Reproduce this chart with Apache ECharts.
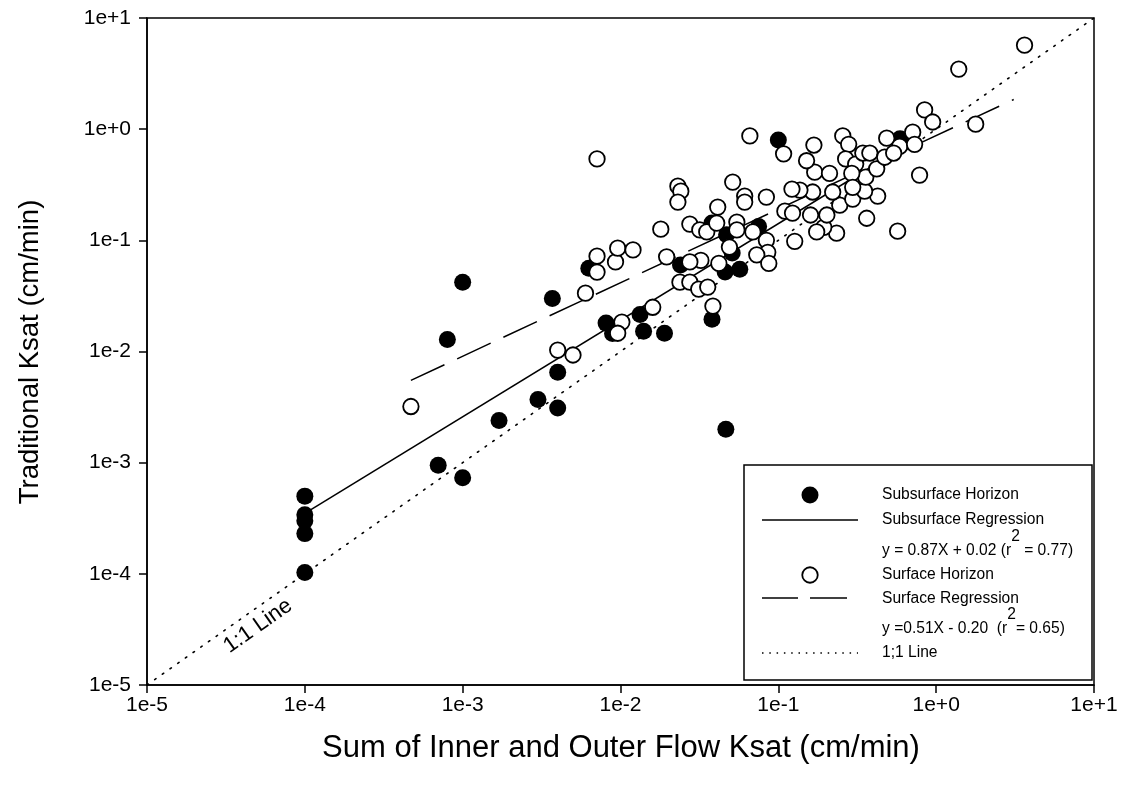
<!DOCTYPE html>
<html>
<head>
<meta charset="utf-8">
<script src="https://cdn.jsdelivr.net/npm/echarts@6/dist/echarts.min.js"></script>
<style>html,body{margin:0;padding:0;background:#fff}#chart{width:1130px;height:797px}</style>
</head>
<body>
<div id="chart"></div>
<script>
// ---- data ----
const subsurface = [
  [1e-4, 5.0e-4], [1e-4, 3.4e-4], [1e-4, 3.0e-4], [1e-4, 2.3e-4], [1e-4, 1.03e-4],
  [7.0e-4, 9.5e-4], [1.0e-3, 7.3e-4], [8.0e-4, 0.0128], [1.0e-3, 0.042],
  [1.7e-3, 2.4e-3], [3.0e-3, 3.7e-3], [4.0e-3, 6.5e-3], [4.0e-3, 3.1e-3], [3.7e-3, 0.030],
  [8.1e-3, 0.018], [8.9e-3, 0.0145], [0.0133, 0.0215], [0.014, 0.0152], [0.019, 0.0146],
  [0.0465, 2.0e-3], [0.038, 0.0195], [6.3e-3, 0.056], [0.024, 0.060], [0.046, 0.052],
  [0.057, 0.055], [0.047, 0.112], [0.051, 0.077], [0.038, 0.143], [0.075, 0.133],
  [0.10, 0.80], [0.59, 0.82]
];
const surface = [
  [4.7e-4, 3.2e-3], [4.0e-3, 0.0103], [5.0e-3, 9.3e-3], [0.0102, 0.0184], [9.6e-3, 0.0146],
  [0.016, 0.025], [7.1e-3, 0.54], [0.066, 0.87], [0.108, 0.60], [0.845, 1.49],
  [0.95, 1.16], [0.785, 0.386], [0.57, 0.121], [0.363, 0.158], [0.234, 0.116],
  [0.194, 0.131], [0.175, 0.119], [0.127, 0.098], [0.160, 0.169], [0.203, 0.169],
  [0.245, 0.207], [0.296, 0.235], [0.426, 0.25], [0.352, 0.277], [0.221, 0.272],
  [0.165, 0.272], [0.137, 0.283], [0.122, 0.289], [0.110, 0.183], [0.123, 0.176],
  [0.170, 0.41], [0.211, 0.40], [0.151, 0.52], [0.168, 0.72], [0.256, 0.87],
  [0.279, 0.73], [0.267, 0.54], [0.309, 0.485], [0.343, 0.61], [0.38, 0.61],
  [0.358, 0.37], [0.42, 0.44], [0.472, 0.56], [0.486, 0.83], [0.587, 0.70],
  [0.71, 0.94], [0.73, 0.73], [0.538, 0.61], [0.292, 0.40], [0.296, 0.30],
  [0.0514, 0.334], [0.0612, 0.25], [0.0612, 0.221], [0.084, 0.245], [0.0231, 0.307],
  [0.0241, 0.277], [0.0231, 0.221], [0.018, 0.126], [0.0275, 0.14], [0.0318, 0.124],
  [0.0352, 0.119], [0.0413, 0.199], [0.0407, 0.143], [0.0546, 0.146], [0.0546, 0.124],
  [0.069, 0.119], [0.084, 0.100], [0.0857, 0.078], [0.073, 0.074], [0.087, 0.062],
  [0.049, 0.087], [0.042, 0.062], [0.0323, 0.066], [0.0275, 0.064], [0.0196, 0.071],
  [0.0238, 0.042], [0.0275, 0.042], [0.0313, 0.0364], [0.0357, 0.038], [0.0385, 0.0256],
  [7.1e-3, 0.072], [7.1e-3, 0.0518], [9.3e-3, 0.064], [9.6e-3, 0.085], [0.012, 0.082],
  [6.0e-3, 0.0335], [3.63, 5.7], [1.39, 3.47], [1.78, 1.11]
];
const subsurfaceFit = [[1e-4, 3.5e-4], [0.6, 0.67]];
const surfaceFit = [[4.7e-4, 5.5e-3], [3.1, 1.85]];
const oneToOne = [[1e-5, 1e-5], [10, 10]];
const axisRange = [1e-5, 10];

const xTitle = 'Sum of Inner and Outer Flow Ksat (cm/min)';
const yTitle = 'Traditional Ksat (cm/min)';
const legendLabels = ['Subsurface Horizon', 'Subsurface Regression',
  'y = 0.87X + 0.02 (r{s|2} = 0.77)', 'Surface Horizon', 'Surface Regression',
  'y =0.51X - 0.20  (r{s|2}= 0.65)', '1;1 Line'];
const lineLabel = '1:1 Line';

const FONT = '"Liberation Sans", Arial, Helvetica, sans-serif';
function tickFmt(v) {
  const e = Math.round(Math.log10(v));
  return '1e' + (e >= 0 ? '+' : '') + e;
}
const axisCommon = {
  type: 'log', logBase: 10, min: axisRange[0], max: axisRange[1],
  splitLine: { show: false },
  axisLine: { show: true, lineStyle: { color: '#000', width: 1.5 } },
  axisTick: { show: true, inside: false, length: 8, lineStyle: { color: '#000', width: 1.5 } },
  minorTick: { show: false },
  axisLabel: { formatter: tickFmt, color: '#000', fontSize: 21, fontFamily: FONT }
};

const chart = echarts.init(document.getElementById('chart'), null, { renderer: 'canvas' });
const LX = 882;
const LFS = 15.6;
const textStyle = (t, y, extra) => ({
  type: 'text', z: 102,
  style: Object.assign({ text: t, x: LX, y: y, fill: '#000', font: LFS + 'px ' + FONT,
    verticalAlign: 'middle', align: 'left' }, extra || {})
});
const supRich = { s: { fontSize: LFS, fontFamily: FONT, padding: [0, 0, 28, 0] } };

chart.setOption({
  animation: false,
  backgroundColor: '#fff',
  grid: { left: 147, right: 36, top: 18, bottom: 112, show: true, borderColor: '#000', borderWidth: 1.5,
          backgroundColor: 'transparent', containLabel: false, outerBoundsMode: 'none' },
  xAxis: Object.assign({}, axisCommon, { axisLabel: Object.assign({}, axisCommon.axisLabel, { margin: 10 }) }),
  yAxis: Object.assign({}, axisCommon, { axisLabel: Object.assign({}, axisCommon.axisLabel, { margin: 16 }) }),
  series: [
    { type: 'line', data: oneToOne, symbol: 'none', silent: true, z: 1,
      lineStyle: { color: '#000', width: 1.6, type: [1.6, 7.8], cap: 'round' } },
    { type: 'line', data: subsurfaceFit, symbol: 'none', silent: true, z: 1,
      lineStyle: { color: '#000', width: 1.5 } },
    { type: 'line', data: surfaceFit, symbol: 'none', silent: true, z: 1,
      lineStyle: { color: '#000', width: 1.5, type: [37, 14] } },
    { type: 'scatter', data: subsurface, symbol: 'circle', symbolSize: 17, z: 3,
      itemStyle: { color: '#000', opacity: 1 } },
    { type: 'scatter', data: surface, symbol: 'circle', symbolSize: 15.5, z: 4,
      itemStyle: { color: '#fff', borderColor: '#000', borderWidth: 1.8, opacity: 1 } }
  ],
  graphic: [
    { type: 'text', z: 100, x: 621, y: 748,
      style: { text: xTitle, font: '31px ' + FONT, fill: '#000', align: 'center', verticalAlign: 'middle' } },
    { type: 'text', z: 100, x: 30, y: 352, rotation: Math.PI / 2,
      style: { text: yTitle, font: '27.5px ' + FONT, fill: '#000', align: 'center', verticalAlign: 'middle' } },
    { type: 'text', z: 100, x: 258, y: 626, rotation: Math.atan(111.1 / 157.9),
      style: { text: lineLabel, font: '22px ' + FONT, fill: '#000', align: 'center', verticalAlign: 'middle' } },
    { type: 'rect', z: 100, shape: { x: 744, y: 465, width: 348, height: 215 },
      style: { fill: '#fff', stroke: '#000', lineWidth: 1.5 } },
    { type: 'circle', z: 101, shape: { cx: 810, cy: 495, r: 8.5 }, style: { fill: '#000' } },
    { type: 'line', z: 101, shape: { x1: 762, y1: 520, x2: 858, y2: 520 }, style: { stroke: '#000', lineWidth: 1.5 } },
    { type: 'circle', z: 101, shape: { cx: 810, cy: 575, r: 7.75 }, style: { fill: '#fff', stroke: '#000', lineWidth: 1.8 } },
    { type: 'line', z: 101, shape: { x1: 762, y1: 598, x2: 798, y2: 598 }, style: { stroke: '#000', lineWidth: 1.5 } },
    { type: 'line', z: 101, shape: { x1: 810, y1: 598, x2: 847, y2: 598 }, style: { stroke: '#000', lineWidth: 1.5 } },
    { type: 'line', z: 101, shape: { x1: 762, y1: 653, x2: 858, y2: 653 },
      style: { stroke: '#000', lineWidth: 1.5, lineDash: [1.5, 5.8] } },
    textStyle(legendLabels[0], 495),
    textStyle(legendLabels[1], 520),
    textStyle(legendLabels[2], 551, { rich: supRich }),
    textStyle(legendLabels[3], 575),
    textStyle(legendLabels[4], 599),
    textStyle(legendLabels[5], 629, { rich: supRich }),
    textStyle(legendLabels[6], 653)
  ]
});
</script>
</body>
</html>
